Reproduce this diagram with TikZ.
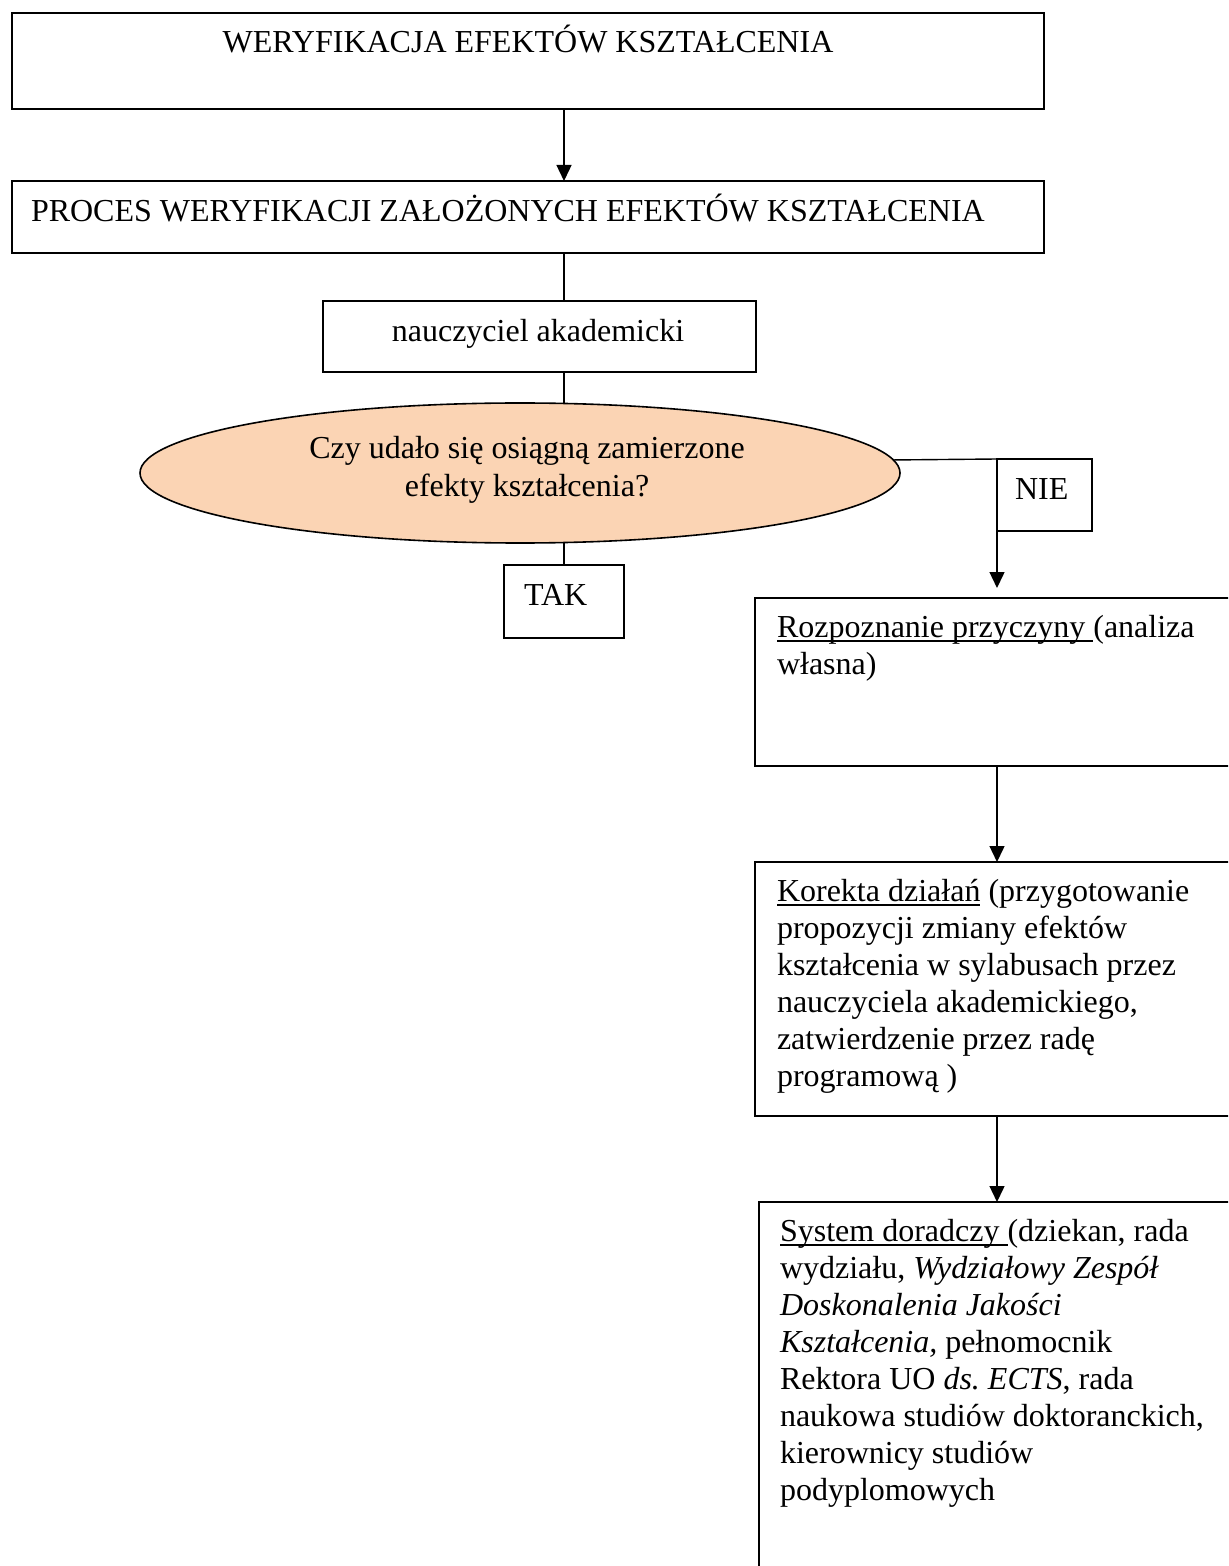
\documentclass[tikz,border=0pt]{standalone}
\usepackage{fontspec}
\setmainfont{Liberation Serif}
\usetikzlibrary{arrows.meta,shapes.geometric,calc}
\definecolor{peach}{HTML}{FBD4B4}
\newcommand\myul[1]{\setbox0\hbox{#1}\rlap{\rule[-2.4pt]{\wd0}{0.7pt}}\box0\relax}
\begin{document}
\begin{tikzpicture}[x=0.5pt,y=-0.5pt,
  bx/.style={draw, line width=0.8pt, anchor=north west, inner sep=0pt, outer sep=0pt},
  txt/.style={font=\fontsize{16}{18.5}\selectfont, inner sep=0pt, outer sep=0pt},
  ln/.style={line width=0.7pt},
  arr/.style={line width=0.7pt, -{Triangle[length=8pt,width=7.5pt]}}]
\useasboundingbox (0,0) rectangle (1228,1566);
\fill[white] (0,0) rectangle (1228,1566);
\clip (0,0) rectangle (1228,1566);
\coordinate (cx) at (564,0);
% boxes
\node[bx, minimum width=516pt, minimum height=48pt] (b1) at (12,13) {};
\node[bx, minimum width=516pt, minimum height=36pt] (b2) at (12,181) {};
\node[bx, minimum width=216.5pt, minimum height=35.5pt] (b3) at (323,301) {};
\node[draw, line width=0.8pt, ellipse, fill=peach, inner sep=0pt, outer sep=0pt,
      minimum width=380pt, minimum height=70pt] (e) at (520,473) {};
\node[bx, minimum width=60pt, minimum height=36.5pt] (tak) at (504,565) {};
\node[bx, minimum width=47.5pt, minimum height=36pt] (nie) at (997,459) {};
\node[bx, minimum width=242.5pt, minimum height=84pt] (rz) at (755,598) {};
\node[bx, minimum width=242.5pt, minimum height=127pt] (ko) at (755,862) {};
\node[bx, minimum width=240.5pt, minimum height=199pt] (sy) at (759,1202) {};
% connectors
\draw[arr] (b1.south -| cx) -- (b2.north -| cx);
\draw[ln] (b2.south -| cx) -- (b3.north -| cx);
\draw[ln] (b3.south -| cx) -- (e.north -| cx);
\draw[ln] (e.south -| cx) -- (tak.north -| cx);
\draw[ln] (e.2) -- (nie.north west);
\draw[arr, shorten >=5pt] (nie.south west) -- (rz.north -| nie.south west);
\draw[arr] (rz.south -| nie.south west) -- (ko.north -| nie.south west);
\draw[arr] (ko.south -| nie.south west) -- (sy.north -| nie.south west);
% texts
\node[txt, anchor=base] (t1) at (528,53) {WERYFIKACJA EFEKTÓW KSZTAŁCENIA};
\node[txt, anchor=base west] (t2) at (31,222) {PROCES WERYFIKACJI ZAŁOŻONYCH EFEKTÓW KSZTAŁCENIA};
\node[txt, anchor=base] (t3) at (538,342) {nauczyciel akademicki};
\node[txt, anchor=base] (e1) at (527,459) {Czy udało się osiągną zamierzone};
\node[txt, anchor=base] (e2) at (527,497) {efekty kształcenia?};
\node[txt, anchor=base west] (ttak) at (524,605) {TAK};
\node[txt, anchor=base west] (tnie) at (1015,500) {NIE};
\node[txt, anchor=base west] (r1) at (777,637) {\myul{Rozpoznanie przyczyny\ }(analiza};
\node[txt, anchor=base west] (r2) at (777,674) {własna)};
\node[txt, anchor=base west] (k1) at (777,901) {\myul{Korekta działań} (przygotowanie};
\node[txt, anchor=base west] (k2) at (777,938) {propozycji zmiany efektów};
\node[txt, anchor=base west] (k3) at (777,975) {kształcenia w sylabusach przez};
\node[txt, anchor=base west] (k4) at (777,1012) {nauczyciela akademickiego,};
\node[txt, anchor=base west] (k5) at (777,1049) {zatwierdzenie przez radę};
\node[txt, anchor=base west] (k6) at (777,1086) {programową )};
\node[txt, anchor=base west] (s1) at (780,1241) {\myul{System doradczy\ }(dziekan, rada};
\node[txt, anchor=base west] (s2) at (780,1278) {wydziału, \textit{Wydziałowy Zespół}};
\node[txt, anchor=base west] (s3) at (780,1315) {\textit{Doskonalenia Jakości}};
\node[txt, anchor=base west] (s4) at (780,1352) {\textit{Kształcenia,} pełnomocnik};
\node[txt, anchor=base west] (s5) at (780,1389) {Rektora UO \textit{ds.\ ECTS}, rada};
\node[txt, anchor=base west] (s6) at (780,1426) {naukowa studiów doktoranckich,};
\node[txt, anchor=base west] (s7) at (780,1463) {kierownicy studiów};
\node[txt, anchor=base west] (s8) at (780,1500) {podyplomowych};
\end{tikzpicture}
\end{document}
